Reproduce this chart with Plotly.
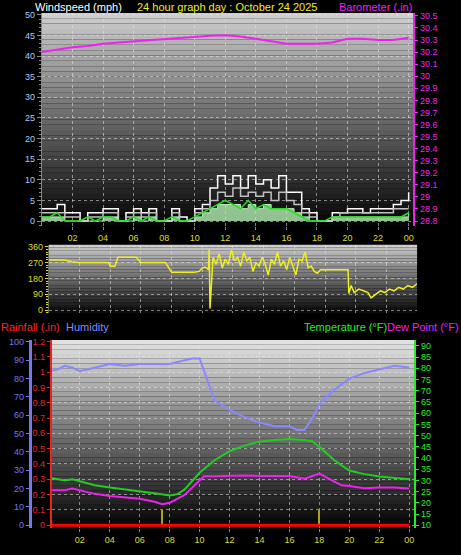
import plotly.graph_objects as go

W, H = 461, 555
# ---------------- data ----------------
hours_half = [i * 0.5 for i in range(49)]
wind_gust = [3,3,4,2,2,0,2,2,3,3,0,2,3,2,3,0,0,3,1,0,3,4,8,11,9,11,8,11,9,10,8,11,7,7,3,2,0,0,2,2,3,3,2,3,3,3,4,5,7]
wind_avg = [2,2,2,1,1,0,1,1,2,2,0,1,2,1,2,0,0,2,0,0,2,3,5,7,6,8,6,7,6,7,5,7,5,4,2,1,0,0,1,2,2,2,2,2,2,2,3,3,3]
wind_green = [1,1,2,0,0,0,1,0,1,1,0,0,1,0,1,0,0,1,0,0,1,2,3,4,5,4,3,5,3,4,3,3,3,2,1,0,0,0,1,1,1,1,1,1,1,1,1,1,2]
wind_fill = [1,1,1,0,0,0,0,0,1,1,0,0,1,0,1,0,0,1,0,0,1,2,3,4,4,4,3,4,3,4,3,3,3,2,1,0,0,0,1,1,1,1,1,1,1,1,1,1,2]

baro_hours = list(range(25))
baro = [30.20,30.22,30.24,30.25,30.27,30.28,30.29,30.30,30.31,30.32,30.33,30.335,30.34,30.33,30.31,30.29,30.27,30.27,30.27,30.28,30.31,30.31,30.30,30.30,30.32]

dir_hours = [0,0.5,1,1.5,2,3,3.9,4,4.3,4.5,5,5.7,6,7,7.6,8,9,9.5,9.8,10,10.2,10.4,10.45,10.5,10.7,10.9,11.1,11.3,11.5,11.7,11.9,12.1,12.3,12.5,12.7,12.9,13.1,13.3,13.5,13.7,13.9,14.1,14.3,14.5,14.7,14.9,15.1,15.3,15.5,15.7,15.9,16.1,16.3,16.5,16.7,16.9,17.1,17.3,17.5,17.7,18,19,19.5,19.55,19.7,19.9,20.2,20.5,20.8,21,21.3,21.6,21.9,22.2,22.5,22.8,23.1,23.4,23.7,24]
wind_dir = [285,285,285,275,270,270,270,250,250,300,300,300,270,270,270,215,215,215,220,240,245,230,345,10,300,260,320,240,290,260,340,280,300,250,330,280,300,220,270,250,300,260,200,290,260,330,250,280,230,300,250,200,290,280,330,240,250,220,210,230,230,230,230,95,140,100,120,110,100,70,90,110,100,120,110,130,120,140,130,150]

hum_hours = [0,0.5,1,1.5,2,3,4,5,6,7,8,9,9.5,10,10.5,11,12,13,14,15,16,16.5,17,17.5,18,19,20,21,22,23,24]
humidity = [84,85,87,86,84,86,88,87,88,88,88,90,91,91,80,68,63,59,56,54,54,52,52,58,66,74,80,83,85,87,86]

temp_hours = [0,1,1.5,2,3,4,5,6,7,8,8.5,9,10,11,12,13,14,15,16,17,17.5,18,19,20,21,22,23,24]
temperature = [31.2,30,30.5,29.5,27.8,26.8,26,25.3,24.3,23.3,23.8,26,33.4,39,43,45.5,47.3,48,48.5,48,47.5,45,39,34.4,32.8,31.7,31.2,30.5]
dew_hours = [0,1,1.5,2,3,4,5,6,7,7.5,8,9,10,10.3,11,12,13,14,15,16,17,18,19,19.5,20,21,22,23,24]
dewpoint = [25.6,25.6,26.4,25.5,24,23,22.3,21.8,20.5,19.4,20,23.5,30,31.8,31.8,32,32.2,32,32,32,30.8,33,29.5,27.8,27.5,26.5,26.8,26.8,26.4]
rain_hours = [0, 24]
rainfall = [0, 0]
marker_hours = [7.5, 18]
marker_vals = [0.1, 0.1]

hour_ticks = list(range(2, 25, 2))
hour_text = ["02","04","06","08","10","12","14","16","18","20","22","00"]

# ---------------- layout helpers ----------------
def px_x(p): return p / W
def px_y(p): return 1 - p / H

fig = go.Figure()
FONT = "Liberation Sans"
shapes = []
def gradient(x0, x1, y0, y1, top, bottom, n=40):
    for i in range(n):
        t = i / (n - 1)
        c = [int(top[k] + (bottom[k] - top[k]) * t) for k in range(3)]
        ya = y0 + (y1 - y0) * i / n
        yb = y0 + (y1 - y0) * (i + 1) / n
        shapes.append(dict(type="rect", xref="paper", yref="paper", x0=px_x(x0), x1=px_x(x1),
                           y0=px_y(ya), y1=px_y(yb), fillcolor=f"rgb({c[0]},{c[1]},{c[2]})",
                           line=dict(width=0), layer="below"))

gradient(42, 414, 10, 225, (205, 205, 205), (5, 5, 5))
gradient(49, 418, 244, 313, (200, 200, 200), (10, 10, 10), 25)
gradient(52, 415, 340, 530, (225, 225, 225), (5, 5, 5))

# ---------------- top panel ----------------
fig.add_trace(go.Scatter(x=hours_half, y=wind_fill, mode="lines", line=dict(color="#b8f0b8", width=1, shape="hv"),
                         fill="tozeroy", fillcolor="rgba(180,240,180,0.8)", xaxis="x", yaxis="y"))
fig.add_trace(go.Scatter(x=hours_half, y=wind_gust, mode="lines", line=dict(color="#ffffff", width=1.5, shape="hv"), xaxis="x", yaxis="y"))
fig.add_trace(go.Scatter(x=hours_half, y=wind_avg, mode="lines", line=dict(color="#c0c0c0", width=1.5, shape="hv"), xaxis="x", yaxis="y"))
fig.add_trace(go.Scatter(x=hours_half, y=wind_green, mode="lines", line=dict(color="#22dd22", width=1.5), xaxis="x", yaxis="y"))
fig.add_trace(go.Scatter(x=baro_hours, y=baro, mode="lines", line=dict(color="#ee22ee", width=2), xaxis="x", yaxis="y2"))

# ---------------- middle panel ----------------
fig.add_trace(go.Scatter(x=dir_hours, y=wind_dir, mode="lines", line=dict(color="#eeee22", width=1.5), xaxis="x2", yaxis="y3"))

# ---------------- bottom panel ----------------
fig.add_trace(go.Scatter(x=hum_hours, y=humidity, mode="lines", line=dict(color="#8888ff", width=2), xaxis="x3", yaxis="y5"))
fig.add_trace(go.Scatter(x=temp_hours, y=temperature, mode="lines", line=dict(color="#22cc22", width=2), xaxis="x3", yaxis="y7"))
fig.add_trace(go.Scatter(x=dew_hours, y=dewpoint, mode="lines", line=dict(color="#ee22ee", width=2), xaxis="x3", yaxis="y7"))
fig.add_trace(go.Bar(x=marker_hours, y=marker_vals, width=0.08, marker=dict(color="#b0a020", line=dict(width=0)), xaxis="x3", yaxis="y6"))
fig.add_trace(go.Scatter(x=rain_hours, y=rainfall, mode="lines", line=dict(color="#ff0000", width=3), xaxis="x3", yaxis="y6"))

grid = dict(showgrid=True, gridcolor="rgba(230,230,230,0.55)", griddash="dot", gridwidth=1, zeroline=False)
tickf = lambda c: dict(family=FONT, size=9, color=c)

fig.update_layout(
    width=W, height=H, margin=dict(l=0, r=0, t=0, b=0), showlegend=False,
    paper_bgcolor="black", plot_bgcolor="rgba(0,0,0,0)", shapes=shapes, bargap=0,
    xaxis=dict(domain=[px_x(42), px_x(414)], range=[0, 24.29], tickvals=hour_ticks, ticktext=hour_text,
               tickfont=tickf("#dddd22"), ticks="outside", ticklen=3, tickcolor="#888", anchor="y", **grid),
    yaxis=dict(domain=[px_y(225), px_y(10)], range=[-1.2, 50.48], dtick=5, tickfont=tickf("#aaccff"),
               ticks="outside", ticklen=4, tickcolor="#888", showline=True, linecolor="#888",
               minor=dict(dtick=1, ticks="outside", ticklen=2, tickcolor="#888", showgrid=False), anchor="x", **grid),
    yaxis2=dict(overlaying="y", side="right", anchor="x", range=[28.759, 30.525],
                tickvals=[28.8+0.1*i for i in range(18)], ticktext=[f"{28.8+0.1*i:.1f}".replace("30.0","30").replace("29.0","29") for i in range(18)],
                tickfont=tickf("#ee22ee"), ticks="outside", ticklen=3, tickcolor="#ee22ee",
                showline=True, linecolor="#ee22ee", linewidth=2, showgrid=False, zeroline=False),
    xaxis2=dict(domain=[px_x(49), px_x(418)], range=[0, 24], showticklabels=False, dtick=2, anchor="y3", **grid),
    yaxis3=dict(domain=[px_y(313), px_y(244)], range=[-16.9, 371], tickvals=[0, 90, 180, 270, 360],
                tickfont=tickf("#dddd22"), ticks="outside", ticklen=3, tickcolor="#dddd22", anchor="x2",
                minor=dict(dtick=15, ticks="outside", ticklen=2, tickcolor="#dddd22", showgrid=False),
                showline=True, linecolor="#666", **grid),
    yaxis4=dict(overlaying="y3", side="right", anchor="free", position=px_x(425), range=[-16.9, 371],
                tickvals=[0, 90, 180, 270, 360], ticktext=["N", "E", "S", "W", "N"],
                tickfont=dict(family=FONT, size=14, color="#eeee22"), showgrid=False, zeroline=False),
    xaxis3=dict(domain=[px_x(52), px_x(415)], range=[0.133, 24.33], tickvals=hour_ticks, ticktext=hour_text,
                tickfont=tickf("#dddd22"), ticks="outside", ticklen=3, tickcolor="#888", anchor="y6", **grid),
    yaxis5=dict(anchor="free", position=px_x(30), overlaying="y6", range=[-1.62, 101.08], dtick=10,
                tickfont=tickf("#7777ee"), ticks="outside", ticklen=3, tickcolor="#7777ee",
                showline=True, linecolor="#7777ee", linewidth=3, showgrid=False, zeroline=False),
    yaxis6=dict(domain=[px_y(530), px_y(340)], range=[-0.0194, 1.2097], anchor="x3",
                tickvals=[round(0.1*i, 1) for i in range(13)],
                ticktext=["0","0.1","0.2","0.3","0.4","0.5","0.6","0.7","0.8","0.9","1","1.1","1.2"],
                tickfont=tickf("#ee2222"), ticks="outside", ticklen=3, tickcolor="#ee2222",
                showline=True, linecolor="#ee2222", linewidth=2, **grid),
    yaxis7=dict(overlaying="y6", side="right", anchor="x3", range=[8.67, 92.65], dtick=5,
                tickfont=tickf("#22ee22"), ticks="outside", ticklen=3, tickcolor="#22ee22",
                showline=True, linecolor="#22ee22", linewidth=2, showgrid=False, zeroline=False),
)

def label(text, x, y, color, anchor="left", size=11, yanchor="middle"):
    fig.add_annotation(text=text, x=px_x(x), y=px_y(y), xref="paper", yref="paper", showarrow=False,
                       xanchor=anchor, yanchor=yanchor, font=dict(family=FONT, size=size, color=color),
                       borderpad=0)

label("Windspeed (mph)", 34, 4, "white")
label("24 hour graph day : October 24 2025", 227, 4, "#eeee22", "center")
label("Barometer (.in)", 414, 4, "#ee22ee", "right")
label("Rainfall (.in)", 0, 327, "#ff2222")
label("Humidity", 65, 327, "#8888ff")
label("Temperature (°F)", 389, 327, "#22ee22", "right")
label("Dew Point (°F)", 461, 327, "#ee22ee", "right")

fig.write_html("out.html", config={"displayModeBar": False})
with open("out.html", encoding="utf-8") as f:
    html = f.read()
html = html.replace("<body>", '<body style="margin:0;padding:0;background:black;overflow:hidden">', 1)
with open("out.html", "w", encoding="utf-8") as f:
    f.write(html)
